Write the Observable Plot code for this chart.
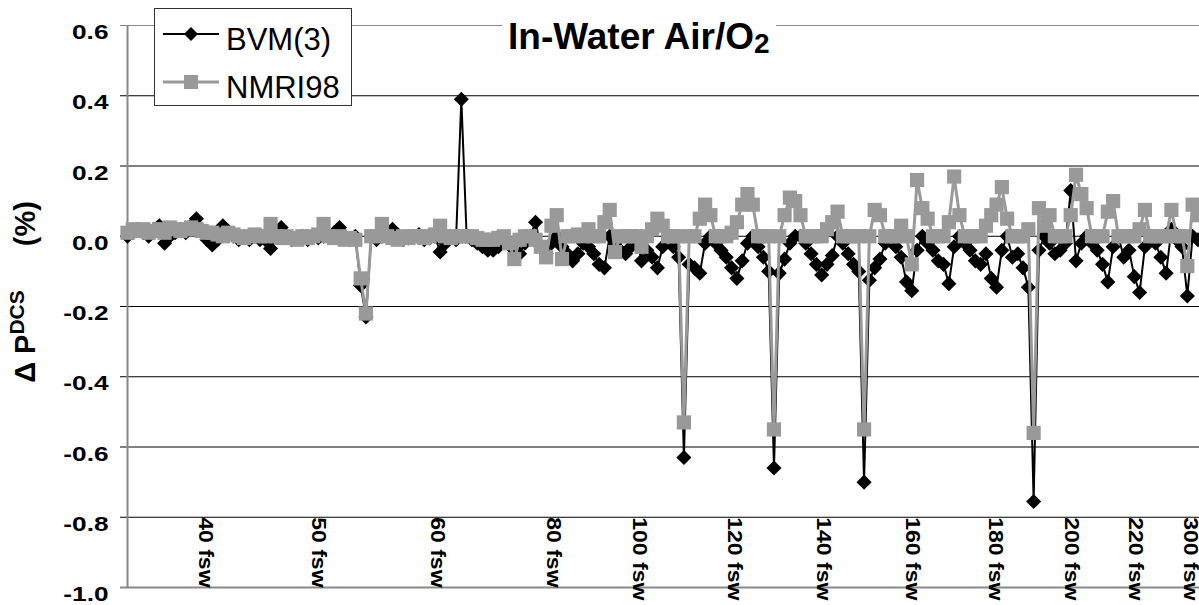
<!DOCTYPE html>
<html><head><meta charset="utf-8">
<script src="https://cdn.jsdelivr.net/npm/d3@7"></script>
<script src="https://cdn.jsdelivr.net/npm/@observablehq/plot@0.6"></script>
<style>
body{margin:0;background:#fff;}
#wrap{position:relative;width:1199px;height:605px;overflow:hidden;background:#fff;}
#legend{position:absolute;left:154px;top:8px;width:196px;height:96px;border:1px solid #333;background:#fff;
  font-family:"Liberation Sans",Arial,sans-serif;font-size:31px;color:#000;}
#legend .lab{position:absolute;left:71px;line-height:31px;white-space:nowrap;}
#legend svg{position:absolute;left:0;top:0;}
#title{position:absolute;left:502px;top:14px;padding:4px 6px;background:#fff;line-height:37px;
  font-family:"Liberation Sans",Arial,sans-serif;font-weight:bold;font-size:37px;color:#000;white-space:nowrap;}
#title .sub{font-size:28px;position:relative;top:4px;}
#ytitle{position:absolute;left:25px;top:292px;transform:translate(-50%,-50%) rotate(-90deg);white-space:nowrap;
  font-family:"Liberation Sans",Arial,sans-serif;font-weight:bold;font-size:29px;color:#000;}
#ytitle .sup{font-size:21px;position:relative;top:-11px;}
#ytitle .pct{margin-left:44px;}
</style></head>
<body><div id="wrap"></div>
<script>
// Delta P(DCS) in %, one value per schedule (index order along x)
const bvm3 = [
  0.0, 0.01, 0.02, 0.01, 0.0, 0.02, 0.03, -0.02, 0.0, 0.01, 0.02, 0.01, 0.03,
  0.05, 0.02, -0.01, -0.025, -0.01, 0.03, 0.01, 0.0, -0.01, 0.0, -0.01, 0.0, -0.01,
  -0.01, -0.035, 0.0, 0.025, 0.0, -0.01, -0.005, 0.0, -0.01, 0.0, -0.005, 0.0, 0.0, 0.01, 0.025, 0.0, -0.01, 0.0,
  -0.14, -0.23,
  0.0, -0.01, 0.0, 0.0, 0.02, 0.0, -0.01, -0.005, 0.0, 0.005, -0.01, -0.005, 0.0, -0.045, -0.02, 0.0, -0.01,
  0.39,
  0.0, -0.01, -0.02, -0.03, -0.04, -0.04, -0.03, -0.01, -0.02, -0.04, -0.05, -0.02, 0.0, 0.04, -0.03, -0.05,
  -0.02, 0.0, -0.03, -0.05, -0.07, -0.05, -0.02, -0.03, -0.05, -0.08, -0.09, 0.0, -0.02, -0.04, -0.05, -0.03,
  0.0, -0.07, -0.04, -0.06, -0.09, -0.03, 0.0, -0.03, -0.06, -0.63,
  -0.08, -0.09, -0.105, -0.02, 0.0, -0.02, -0.04, -0.06, -0.09, -0.12, -0.07, -0.02, 0.0, -0.03, -0.06, -0.1, -0.66,
  -0.105, -0.065, -0.02, 0.0, 0.0, -0.02, -0.05, -0.08, -0.11, -0.08, -0.055, 0.0, -0.02, -0.05, -0.08, -0.1, -0.70,
  -0.125, -0.09, -0.065, -0.02, 0.0, -0.03, -0.06, -0.13, -0.155, -0.04, 0.0, -0.02, -0.04, -0.07, -0.08, -0.135,
  -0.03, 0.0, -0.02, -0.04, -0.07, -0.08, -0.05, -0.12, -0.145, -0.04, 0.0, -0.06, -0.05, -0.09, -0.145, -0.755,
  -0.04, 0.0, -0.02, -0.05, -0.04, -0.02, 0.13, -0.07, -0.02, 0.0, -0.02, -0.04, -0.08, -0.13, -0.03, 0.0,
  -0.06, -0.04, -0.115, -0.16, -0.03, 0.0, -0.02, -0.06, -0.105, 0.02, -0.01, -0.03, -0.17, 0.0, -0.01
];
const nmri98 = [
  0.01, 0.02, 0.015, 0.02, 0.01, 0.015, 0.02, 0.01, 0.025, 0.02, 0.015, 0.02, 0.025,
  0.02, 0.015, 0.01, 0.01, 0.005, 0.0, 0.01, 0.005, 0.0, -0.005, 0.0, 0.005, 0.0,
  0.0, 0.035, 0.0, -0.005, 0.0, -0.005, -0.01, 0.0, -0.005, 0.0, 0.005, 0.035, 0.0, -0.005, 0.0, -0.01, -0.005, -0.01,
  -0.12, -0.22,
  0.0, 0.0, 0.035, 0.0, -0.005, -0.01, 0.0, -0.005, 0.0, 0.0, -0.005, 0.0, 0.005, 0.03, 0.0, -0.005, 0.0,
  0.0,
  0.0, 0.0, -0.005, -0.01, -0.01, -0.01, -0.005, 0.0, -0.02, -0.065, -0.01, 0.0, 0.0, -0.01, -0.03, -0.06,
  0.03, 0.06, -0.065, 0.0, 0.0, 0.005, 0.0, 0.02, 0.0, 0.0, 0.04, 0.075, -0.045, 0.0, 0.0, 0.0,
  0.0, -0.03, 0.0, 0.02, 0.05, 0.03, 0.0, 0.0, 0.0, -0.53,
  0.0, 0.0, 0.05, 0.09, 0.06, 0.0, 0.0, 0.0, 0.01, 0.04, 0.09, 0.12, 0.09, 0.0, 0.0, 0.0, -0.55,
  0.0, 0.06, 0.11, 0.1, 0.06, 0.0, 0.0, 0.0, 0.0, 0.02, 0.04, 0.07, 0.0, 0.0, 0.0, 0.0, -0.55,
  0.0, 0.075, 0.06, 0.0, 0.0, 0.0, 0.03, 0.0, -0.08, 0.16, 0.08, 0.05, 0.0, 0.0, 0.0, 0.04,
  0.17, 0.06, 0.0, 0.0, 0.0, 0.0, 0.03, 0.06, 0.09, 0.14, 0.05, 0.0, 0.0, 0.0, 0.02, -0.56,
  0.08, 0.03, 0.06, 0.0, 0.0, 0.0, 0.06, 0.175, 0.12, 0.08, 0.0, 0.0, 0.0, 0.07, 0.1, 0.0,
  0.0, 0.0, 0.0, 0.02, 0.075, 0.0, 0.0, 0.0, 0.0, 0.075, 0.0, 0.0, -0.085, 0.09, 0.06
];
const yTicks = [-1.0, -0.8, -0.6, -0.4, -0.2, 0.0, 0.2, 0.4, 0.6];
const depthLabels = ["40 fsw", "50 fsw", "60 fsw", "80 fsw", "100 fsw", "120 fsw", "140 fsw", "160 fsw", "180 fsw", "200 fsw", "220 fsw", "300 fsw"];
const depthAt = [14.7, 36, 58.5, 80.4, 96.6, 114.5, 131.3, 148.1, 163.8, 178.1, 190.2, 200.6];

const rows = bvm3.map((v, i) => ({i, bvm: v, nmri: nmri98[i]}));
const labels = depthLabels.map((t, k) => ({t, at: depthAt[k]}));
const font = "Liberation Sans, Arial, sans-serif";

const chart = Plot.plot({
  width: 1199, height: 605,
  marginTop: 25, marginBottom: 18, marginLeft: 120, marginRight: 0,
  x: {domain: [-1.32, 202.3], axis: null},
  y: {domain: [-1.0, 0.6], axis: null},
  style: {background: "white", overflow: "visible"},
  marks: [
    Plot.ruleY(yTicks.filter(d => d > -1 && d < 0.6), {stroke: "#000", strokeWidth: 1}),
    Plot.ruleY([0.6], {stroke: "#888", strokeWidth: 1}),
    Plot.ruleY([-1.0], {stroke: "#888", strokeWidth: 2}),
    Plot.ruleX([0], {y1: -1.0, y2: 0.6, stroke: "#888", strokeWidth: 2}),
    Plot.text(yTicks, {y: d => d, text: d => d.toFixed(1), frameAnchor: "left", textAnchor: "end",
      dx: -12, dy: 7, fontFamily: font, fontWeight: "bold", fontSize: 21, fill: "#000"}),
    Plot.text(labels, {x: "at", y: -0.8, text: "t", rotate: 90, textAnchor: "start",
      fontFamily: font, fontWeight: "bold", fontSize: 20, fill: "#000"}),
    Plot.line(rows, {x: "i", y: "bvm", stroke: "#000", strokeWidth: 2}),
    Plot.dot(rows, {x: "i", y: "bvm", symbol: "diamond2", r: 6.8, fill: "#000"}),
    Plot.line(rows, {x: "i", y: "nmri", stroke: "#999", strokeWidth: 3}),
    Plot.dot(rows, {x: "i", y: "nmri", symbol: "square", r: 8, fill: "#999"})
  ]
});

const wrap = document.getElementById("wrap");
wrap.appendChild(chart);

// widen the tick-label glyphs along the text direction, as in the original
const yTickText = new Set(yTicks.map(d => d.toFixed(1)));
const depthText = new Set(depthLabels);
chart.querySelectorAll("text").forEach(t => {
  const s = t.textContent;
  const k = yTickText.has(s) ? 1.25 : depthText.has(s) ? 1.15 : 0;
  if (k) {
    const L = t.getComputedTextLength();
    t.setAttribute("textLength", (L * k).toFixed(1));
    t.setAttribute("lengthAdjust", "spacingAndGlyphs");
  }
});

const legend = document.createElement("div");
legend.id = "legend";
legend.innerHTML = `
<svg width="196" height="96">
  <line x1="8" x2="64" y1="25" y2="25" stroke="#000" stroke-width="2"/>
  <path d="M36,18L43,25L36,32L29,25Z" fill="#000"/>
  <line x1="8" x2="64" y1="73" y2="73" stroke="#999" stroke-width="3"/>
  <rect x="29" y="66" width="14" height="14" fill="#999"/>
</svg>
<div class="lab" style="top:15px">BVM(3)</div>
<div class="lab" style="top:63px">NMRI98</div>`;
wrap.appendChild(legend);

const title = document.createElement("div");
title.id = "title";
title.innerHTML = `In-Water Air/O<span class="sub">2</span>`;
wrap.appendChild(title);

const yt = document.createElement("div");
yt.id = "ytitle";
yt.innerHTML = `Δ P<span class="sup">DCS</span><span class="pct">(%)</span>`;
wrap.appendChild(yt);
</script>
</body></html>
